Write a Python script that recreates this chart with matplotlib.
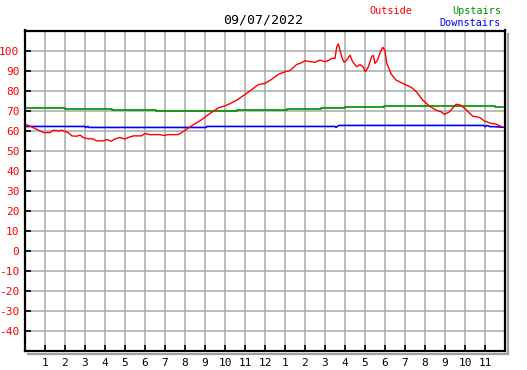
import matplotlib
matplotlib.use("Agg")
import matplotlib.pyplot as plt
from matplotlib.lines import Line2D

title = "09/07/2022"
hour_labels = ["1", "2", "3", "4", "5", "6", "7", "8", "9", "10", "11", "12",
               "1", "2", "3", "4", "5", "6", "7", "8", "9", "10", "11"]
y_ticks = list(range(-40, 101, 10))

outside_h = [0.05, 0.33, 0.75, 0.91, 1.24, 1.42, 1.67, 1.84, 2.01, 2.17, 2.34, 2.58, 2.75, 2.91,
             3.08, 3.42, 3.58, 3.92, 4.08, 4.32, 4.47, 4.75, 5.0, 5.17, 5.42, 5.83, 6.0, 6.25,
             6.75, 6.92, 7.17, 7.65, 7.83, 8.08, 8.42, 8.75, 9.25, 9.67, 10.09, 10.58, 11.08,
             11.67, 12.0, 12.33, 12.67, 13.0, 13.25, 13.59, 13.76, 14.0, 14.49, 14.75, 15.0,
             15.17, 15.34, 15.5, 15.59, 15.67, 15.75, 15.83, 15.95, 16.08, 16.25, 16.38, 16.58,
             16.75, 16.9, 17.02, 17.17, 17.34, 17.42, 17.5, 17.63, 17.77, 17.89, 17.99, 18.09,
             18.31, 18.56, 18.89, 19.32, 19.57, 19.89, 20.23, 20.56, 20.81, 20.97, 21.22, 21.55,
             21.8, 22.05, 22.39, 22.73, 22.96, 23.3, 23.55, 23.85]
outside_v = [63.1, 61.9, 59.9, 59.1, 59.0, 60.2, 59.9, 60.2, 59.5, 59.0, 57.4, 57.2, 57.8, 56.6,
             56.1, 55.8, 54.9, 54.9, 55.6, 54.7, 55.8, 56.6, 55.8, 56.6, 57.4, 57.4, 58.6, 58.0,
             58.0, 57.6, 58.0, 58.0, 59.0, 60.7, 63.0, 64.9, 68.6, 71.4, 72.7, 75.2, 78.6,
             83.0, 83.6, 85.6, 88.1, 89.4, 90.0, 93.1, 93.6, 94.9, 94.1, 95.2, 94.4,
             95.0, 96.1, 96.1, 101.9, 103.3, 100.2, 96.9, 94.1, 95.2, 97.7, 94.4, 91.9,
             93.0, 91.9, 89.4, 91.9, 97.2, 97.4, 93.6, 95.2, 99.4, 101.6, 100.2, 93.6,
             88.2, 85.2, 83.6, 81.6, 79.4, 75.2, 72.2, 70.2, 69.4, 68.1, 69.4, 73.2,
             72.7, 70.5, 67.2, 66.6, 64.9, 63.6, 63.3, 61.9]

upstairs_h = [0.0, 2.02, 2.02, 4.33, 4.33, 6.56, 6.56, 10.58, 10.58, 13.09, 13.09, 14.79,
              14.79, 16.02, 16.02, 17.95, 17.95, 23.52, 23.52, 23.9]
upstairs_v = [71.1, 71.1, 70.6, 70.6, 70.1, 70.1, 69.8, 69.8, 70.2, 70.2, 70.6, 70.6,
              71.1, 71.1, 71.6, 71.6, 72.1, 72.1, 71.6, 71.6]

downstairs_h = [0.0, 3.0, 3.05, 3.15, 3.2, 9.05, 9.1, 15.5, 15.55, 15.62, 15.7, 22.95, 23.0,
                23.1, 23.25, 23.5, 23.6, 23.9]
downstairs_v = [62.1, 62.1, 61.6, 62.1, 61.6, 61.6, 62.1, 62.1, 61.6, 62.1, 62.6, 62.6, 62.0,
                62.6, 62.0, 62.0, 61.9, 61.7]

W, H = 527, 370
fig = plt.figure(figsize=(W / 100, H / 100), dpi=100)
fig.patch.set_facecolor("white")

L, R, T, B = 25, 505, 30.5, 351
ax = fig.add_axes([L / W, 1 - B / H, (R - L) / W, (B - T) / H])
ax.set_xlim(0, 24)
ax.set_ylim(-50, 110)

# shadow
for xs, ys in [([R + 2.5, R + 2.5], [T + 3, B + 2.5]), ([L + 3, R + 2.5], [B + 2.5, B + 2.5])]:
    fig.add_artist(Line2D([x / W for x in xs], [1 - y / H for y in ys],
                          color="#a0a0a0", lw=1.6, transform=fig.transFigure))

ax.set_xticks(range(1, 24))
ax.set_xticklabels(hour_labels)
ax.set_yticks(y_ticks)
ax.set_yticklabels([str(v) for v in y_ticks])
ax.grid(True, color="#a8a8a8", lw=1.1)
ax.set_axisbelow(True)
ax.tick_params(axis="both", direction="in", length=4, width=1.2, color="black")
ax.tick_params(axis="y", labelcolor="red", labelsize=8, pad=4)
ax.tick_params(axis="x", labelcolor="black", labelsize=8, pad=5)
for lab in ax.get_xticklabels() + ax.get_yticklabels():
    lab.set_family("DejaVu Sans Mono")
for sp in ax.spines.values():
    sp.set_linewidth(1.6)
    sp.set_color("black")

ax.plot(upstairs_h, upstairs_v, color="#009000", lw=1.2)
ax.plot(downstairs_h, downstairs_v, color="#0000ff", lw=1.2)
ax.plot(outside_h, outside_v, color="#ff0000", lw=1.0)

fig.text(263 / W, 1 - 20 / H, title, ha="center", va="center", fontsize=9.5,
         family="DejaVu Sans Mono", color="black")
fig.text(369 / W, 1 - 11 / H, "Outside", ha="left", va="center", fontsize=7.3,
         family="DejaVu Sans Mono", color="#ff0000")
fig.text(501 / W, 1 - 11 / H, "Upstairs", ha="right", va="center", fontsize=7.3,
         family="DejaVu Sans Mono", color="#009000")
fig.text(501 / W, 1 - 23 / H, "Downstairs", ha="right", va="center", fontsize=7.3,
         family="DejaVu Sans Mono", color="#0000ff")

fig.savefig("out.png", dpi=100)
